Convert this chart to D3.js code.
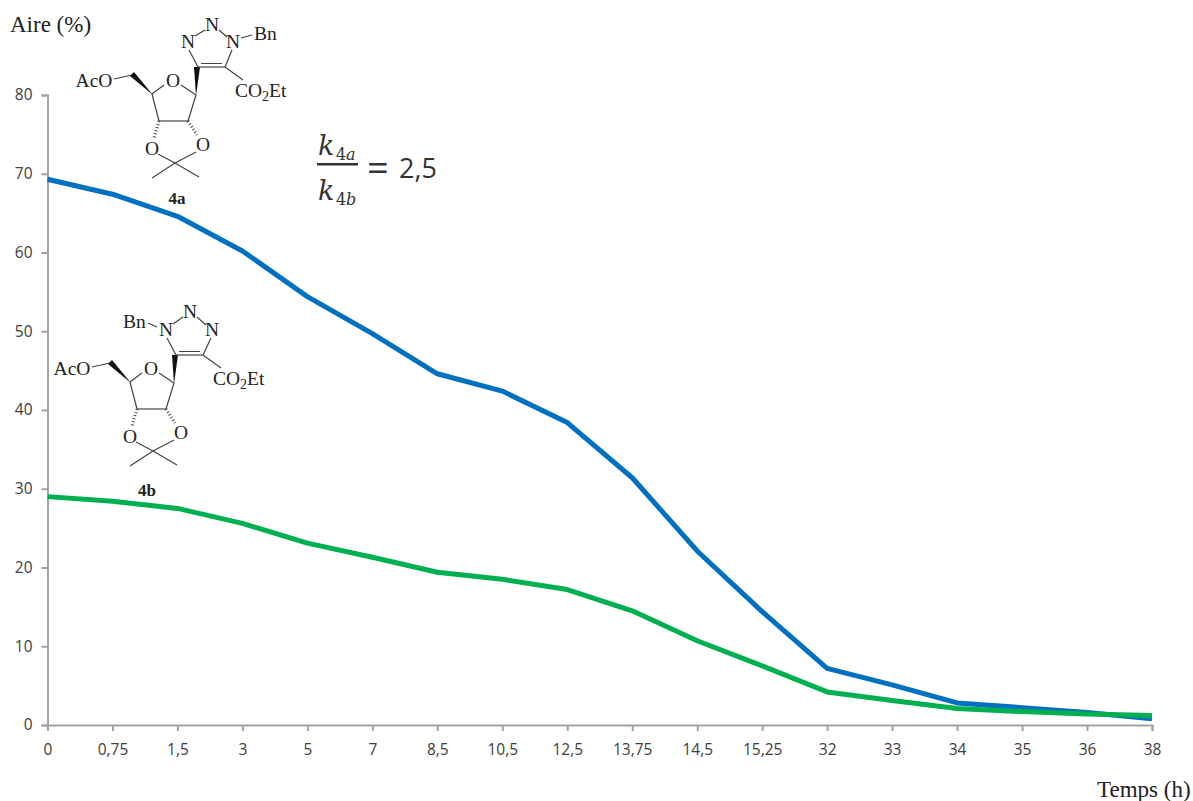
<!DOCTYPE html>
<html><head><meta charset="utf-8">
<script src="https://cdn.jsdelivr.net/npm/d3@7/dist/d3.min.js"></script>
<style>html,body{margin:0;padding:0;background:#fff;overflow:hidden}svg{display:block}</style>
</head><body><div id="c"></div>
<script>
const categories=["0","0,75","1,5","3","5","7","8,5","10,5","12,5","13,75","14,5","15,25","32","33","34","35","36","38"];
const series4a=[69.3,67.4,64.6,60.2,54.4,49.7,44.6,42.4,38.4,31.4,22.1,14.4,7.2,5.1,2.8,2.2,1.6,0.8];
const series4b=[29,28.4,27.5,25.6,23.1,21.3,19.4,18.5,17.2,14.5,10.7,7.5,4.2,3.1,2.1,1.7,1.4,1.2];
const yTicks=[0,10,20,30,40,50,60,70,80];
const W=1193,H=801;
const svg=d3.select("#c").append("svg").attr("width",W).attr("height",H);
const x=d3.scalePoint().domain(categories).range([47.5,1152]);
const y=d3.scaleLinear().domain([0,80]).range([725,95]);
const axisColor="#a3a3a3",labelColor="#404040";
const tickFont="'Open Sans','Noto Sans',sans-serif";
const serif="'Liberation Serif',serif";

const gy=svg.append("g").attr("transform","translate(47.5,0)").call(d3.axisLeft(y).tickValues(yTicks).tickSize(6).tickPadding(9));
const gx=svg.append("g").attr("transform","translate(0,725)").call(d3.axisBottom(x).tickSize(6).tickPadding(13));
[gy,gx].forEach(g=>{
  g.selectAll("path").attr("stroke",axisColor).attr("stroke-width",2);
  g.selectAll("line").attr("stroke",axisColor).attr("stroke-width",2);
  g.selectAll("text").attr("fill",labelColor).style("font-family",tickFont).style("font-size","15.5px");
});
const line=d3.line().x((d,i)=>x(categories[i])).y(d=>y(d));
[[series4a,"#0070c0"],[series4b,"#00b050"]].forEach(([s,c])=>{
  svg.append("path").datum(s).attr("d",line).attr("fill","none").attr("stroke",c).attr("stroke-width",5).attr("stroke-linejoin","round");
});
const label=(t,px,py,size,anchor,weight)=>svg.append("text").attr("x",px).attr("y",py).attr("text-anchor",anchor||"start")
  .attr("font-family",serif).attr("font-size",size).attr("font-weight",weight||"normal").attr("fill","#222").text(t);
label("Aire (%)",10,32,23);
label("Temps (h)",1097,797,23);

// Equation
const eq=svg.append("g").attr("fill","#333");
const mf="'DejaVu Serif',serif";
const mt=(t,px,py,s,st)=>eq.append("text").attr("x",px).attr("y",py).attr("font-family",mf).attr("font-size",s).attr("font-style",st||"normal").text(t);
mt("k",318,155,27,"italic"); mt("4",336,160,16); mt("a",346,160,16,"italic");
mt("k",318,200,27,"italic"); mt("4",336,205,16); mt("b",346,205,16,"italic");
eq.append("rect").attr("x",317).attr("y",163).attr("width",41).attr("height",2.5).attr("fill","#333");
eq.append("text").attr("x",367).attr("y",181).attr("font-family",tickFont).attr("font-size",38).text("=");
eq.append("text").attr("x",399).attr("y",178).attr("font-family",tickFont).attr("font-size",27).text("2,5");

// Molecule: sugar skeleton coordinates (relative to the 4a drawing)
const ink="#444";
const fs=19.5;
const bonds=[[152,94,164,85],[181,85,196,95],[152,94,159,121],[159,121,188,121],[188,121,196,95],
  [114,79,132,75],[158,154,175,163],[196,152,175,163],[175,163,152,178],[175,163,199,177]];
function sugar(dx,dy){
  const g=svg.append("g").attr("transform",`translate(${dx},${dy})`);
  g.selectAll("line").data(bonds).enter().append("line")
    .attr("x1",d=>d[0]).attr("y1",d=>d[1]).attr("x2",d=>d[2]).attr("y2",d=>d[3])
    .attr("stroke",ink).attr("stroke-width",1.2);
  const wedges=["M153,95 L130,76 L134,72 Z","M196,96 L194,67 L200,67 Z"];
  g.selectAll("path.w").data(wedges).enter().append("path").attr("class","w").attr("d",d=>d).attr("fill","#111");
  [[159,121,154,138],[188,121,197,135]].forEach(h=>{
    g.append("line").attr("x1",h[0]).attr("y1",h[1]).attr("x2",h[2]).attr("y2",h[3])
     .attr("stroke",ink).attr("stroke-width",3).attr("stroke-dasharray","1 2.2");
  });
  const t=(s,px,py)=>g.append("text").attr("x",px).attr("y",py).attr("text-anchor","middle").attr("font-family",serif).attr("font-size",fs).attr("fill","#222").text(s);
  t("O",173,87); t("O",152,155); t("O",203,151);
  t("AcO",94,87);
  return g;
}
function ring(g,pts){
  const t=(s,p)=>g.append("text").attr("x",p[0]).attr("y",p[1]+6).attr("text-anchor","middle").attr("font-family",serif).attr("font-size",fs).attr("fill","#222").text(s);
  pts.n.forEach(p=>t("N",p));
  const l=(a,b,w)=>g.append("line").attr("x1",a[0]).attr("y1",a[1]).attr("x2",b[0]).attr("y2",b[1]).attr("stroke",ink).attr("stroke-width",w||1.2);
  l(pts.c[0],pts.c[1],1.2);
  l([pts.c[0][0]+3,pts.c[0][1]-3.5],[pts.c[1][0]-3,pts.c[1][1]-3.5],1);
  l([pts.n[0][0]+1,pts.n[0][1]+8],pts.c[0]);
  l([pts.n[2][0]-1,pts.n[2][1]+8],pts.c[1]);
  l([pts.n[0][0]+7,pts.n[0][1]-6],[pts.n[1][0]-7,pts.n[1][1]+5]);
  l([pts.n[1][0]+7,pts.n[1][1]+5],[pts.n[2][0]-6,pts.n[2][1]-5]);
  l(pts.c[1],[pts.co[0]+8,pts.co[1]-17]);
  l(pts.bnFrom,pts.bnTo);
  g.append("text").attr("x",pts.co[0]).attr("y",pts.co[1]).attr("font-family",serif).attr("font-size",fs).attr("fill","#222")
   .html('CO<tspan dy="4" font-size="14">2</tspan><tspan dy="-4">Et</tspan>');
  g.append("text").attr("x",pts.bn[0]).attr("y",pts.bn[1]).attr("font-family",serif).attr("font-size",fs).attr("fill","#222").text("Bn");
}
ring(sugar(0,0),{n:[[188,42],[212,25],[233,42]],c:[[198,67],[225,67]],co:[235,97],bn:[254,40],bnFrom:[241,38],bnTo:[252,35]});
ring(sugar(-22,288),{n:[[188,42],[212,24],[234,42]],c:[[198,67],[225,67]],co:[235,97],bn:[145,40],bnFrom:[179,39],bnTo:[170,35]});
label("4a",177,204,17,"middle","bold");
label("4b",147,496,17,"middle","bold");
</script></body></html>
